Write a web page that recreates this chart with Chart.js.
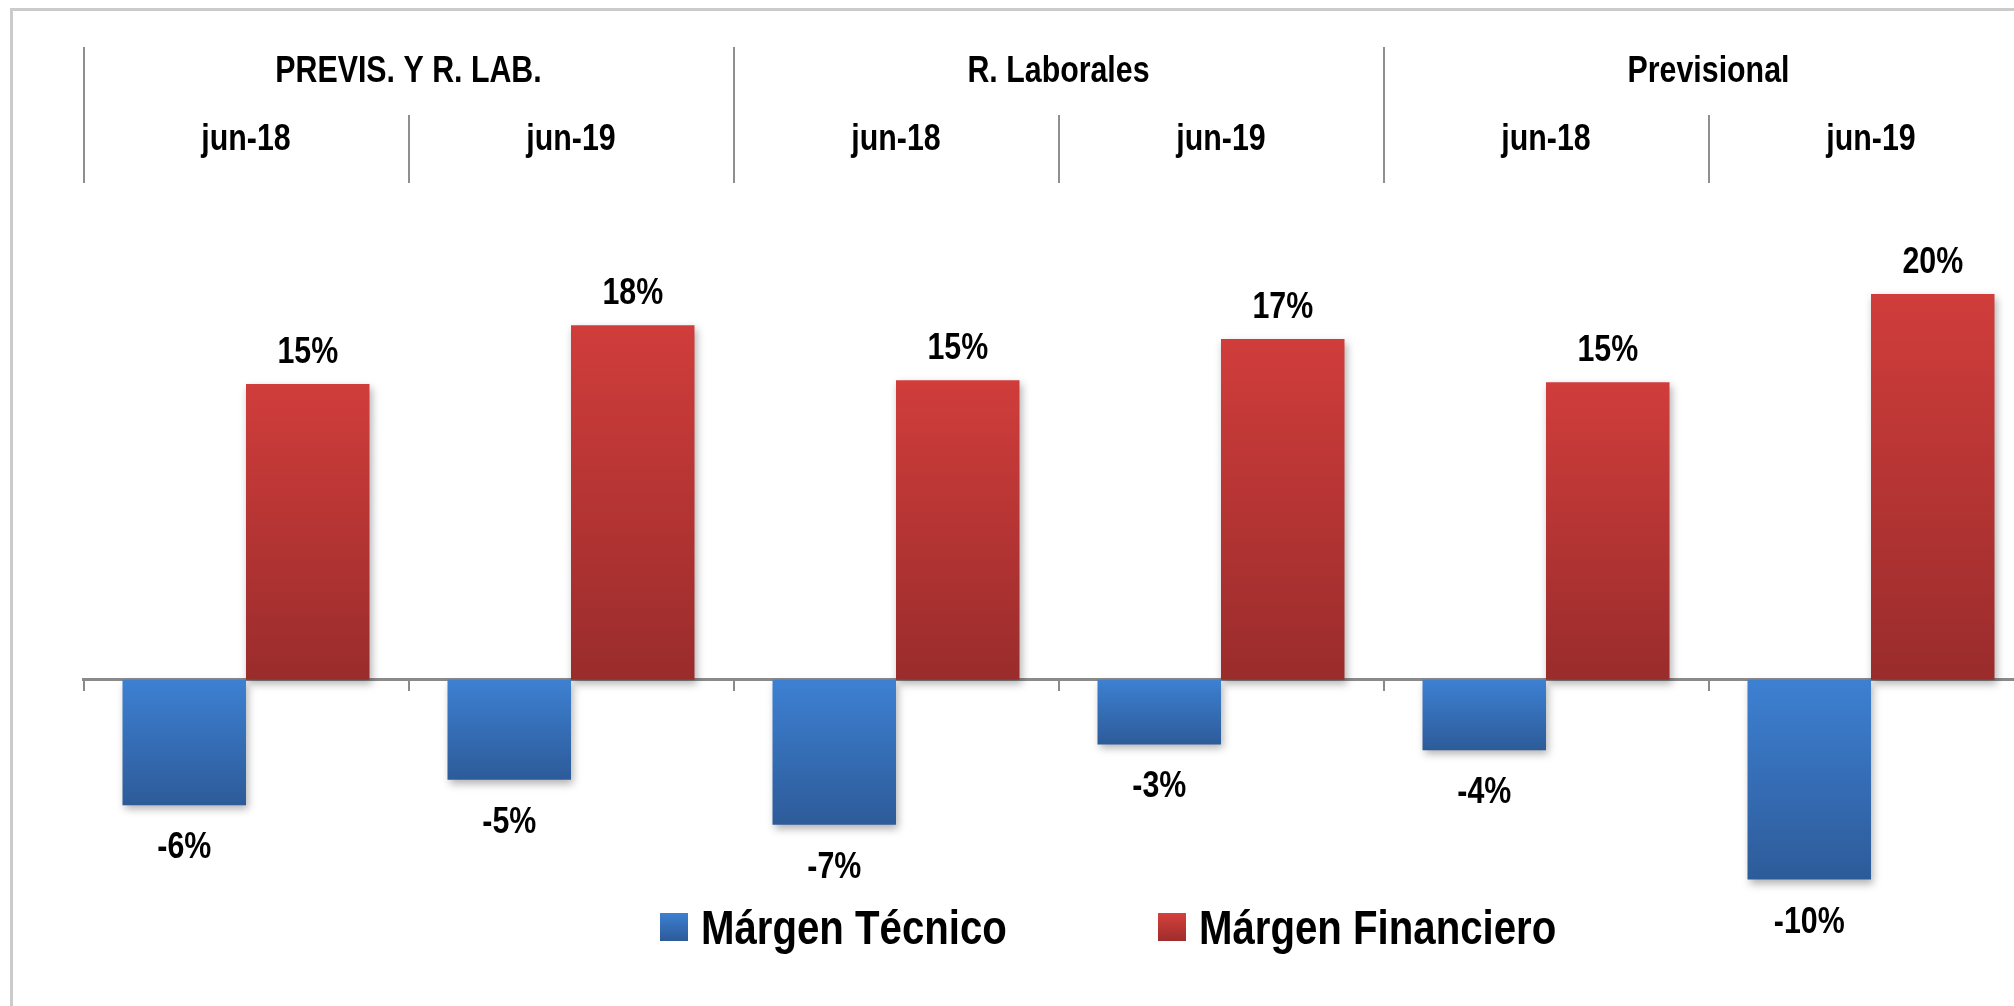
<!DOCTYPE html>
<html lang="es">
<head>
<meta charset="utf-8">
<title>Márgen Técnico y Márgen Financiero</title>
<script src="https://cdn.jsdelivr.net/npm/chart.js@4.4.1/dist/chart.umd.min.js"></script>
<style>
    html, body {
        margin: 0;
        padding: 0;
        width: 2014px;
        height: 1006px;
        overflow: hidden;
        background: #fff;
    }
    .frame {
        position: absolute;
        left: 10px;
        top: 8px;
        width: 2200px;
        height: 1200px;
        border: 3px solid #cbcbcb;
        box-sizing: border-box;
    }
    #chart {
        position: absolute;
        left: 0;
        top: 0;
    }
    .legend-item {
        position: absolute;
        top: 899px;
        display: flex;
        align-items: center;
        font-family: "Liberation Sans Narrow", "Arial Narrow", "Liberation Sans", sans-serif;
        font-weight: bold;
        font-size: 49px;
        color: #000;
        white-space: nowrap;
    }
    .legend-item .text {
        display: inline-block;
        transform: scaleX(0.82);
        transform-origin: left center;
    }
    .swatch {
        width: 28px;
        height: 28px;
        margin-right: 13px;
    }
    .swatch.blue { background: linear-gradient(#3d80d2, #2c5a97); }
    .swatch.red { background: linear-gradient(#d5403d, #9e2d2c); }
</style>
</head>
<body>
<div class="frame"></div>
<canvas id="chart" width="2059" height="1006"></canvas>
<div class="legend-item" style="left:660px"><span class="swatch blue"></span><span class="text">Márgen Técnico</span></div>
<div class="legend-item" style="left:1158px"><span class="swatch red"></span><span class="text">Márgen Financiero</span></div>

<script>
// Chart data
const groups = ['PREVIS. Y R. LAB.', 'R. Laborales', 'Previsional'];
const periods = ['jun-18', 'jun-19', 'jun-18', 'jun-19', 'jun-18', 'jun-19'];
const margenTecnico = [-6.4, -5.1, -7.4, -3.3, -3.6, -10.2];
const margenFinanciero = [15.1, 18.1, 15.3, 17.4, 15.2, 19.7];

const FONT = '"Liberation Sans Narrow", "Arial Narrow", "Liberation Sans", sans-serif';
const NARROW = 0.82; // horizontal squeeze to look like Arial Narrow

// Draw text squeezed horizontally around its anchor point
function narrowText(ctx, text, x, y) {
    ctx.save();
    ctx.translate(x, y);
    ctx.scale(NARROW, 1);
    ctx.fillText(text, 0, 0);
    ctx.restore();
}

// Vertical gradient from the top of each bar to its bottom
function barGradient(light, dark) {
    return (context) => {
        const chart = context.chart;
        if (!chart.chartArea || context.type !== 'data') {
            return dark;
        }
        const y = chart.scales.y;
        const p0 = y.getPixelForValue(0);
        const p1 = y.getPixelForValue(context.raw);
        const g = chart.ctx.createLinearGradient(0, Math.min(p0, p1), 0, Math.max(p0, p1));
        g.addColorStop(0, light);
        g.addColorStop(1, dark);
        return g;
    };
}

// Soft drop shadow under the bars
const barShadow = {
    id: 'barShadow',
    beforeDatasetDraw(chart) {
        const ctx = chart.ctx;
        ctx.save();
        ctx.shadowColor = 'rgba(0, 0, 0, 0.3)';
        ctx.shadowBlur = 8;
        ctx.shadowOffsetX = 2;
        ctx.shadowOffsetY = 4;
    },
    afterDatasetDraw(chart) {
        chart.ctx.restore();
    }
};

// Percent labels above / below each bar
const valueLabels = {
    id: 'valueLabels',
    afterDatasetsDraw(chart) {
        const ctx = chart.ctx;
        ctx.save();
        ctx.font = 'bold 37px ' + FONT;
        ctx.fillStyle = '#000';
        ctx.textAlign = 'center';
        ctx.textBaseline = 'alphabetic';
        chart.data.datasets.forEach((ds, i) => {
            chart.getDatasetMeta(i).data.forEach((bar, j) => {
                const v = ds.data[j];
                const y = v >= 0 ? bar.y - 21 : bar.y + 53;
                narrowText(ctx, Math.round(v) + '%', bar.x, y);
            });
        });
        ctx.restore();
    }
};

// Two-level header (groups and periods) with separators
const headerTable = {
    id: 'headerTable',
    afterDraw(chart) {
        const x = chart.scales.x;
        const ctx = chart.ctx;
        const step = x.getPixelForValue(1) - x.getPixelForValue(0);
        const start = x.getPixelForValue(0) - step / 2;

        ctx.save();
        ctx.strokeStyle = '#8f8f8f';
        ctx.lineWidth = 2;
        for (let i = 0; i <= periods.length; i++) {
            const px = Math.round(start + i * step);
            ctx.beginPath();
            ctx.moveTo(px, i % 2 === 0 ? 47 : 115);
            ctx.lineTo(px, 183);
            ctx.stroke();
        }

        ctx.fillStyle = '#000';
        ctx.textAlign = 'center';
        ctx.textBaseline = 'alphabetic';
        ctx.font = 'bold 37px ' + FONT;
        groups.forEach((g, k) => {
            const cx = (x.getPixelForValue(2 * k) + x.getPixelForValue(2 * k + 1)) / 2;
            narrowText(ctx, g, cx, 82);
        });
        periods.forEach((p, i) => {
            narrowText(ctx, p, x.getPixelForValue(i), 150);
        });
        ctx.restore();
    }
};

const ctx = document.getElementById('chart').getContext('2d');
const chart = new Chart(ctx, {
    type: 'bar',
    data: {
        labels: periods,
        datasets: [
            {
                label: 'Márgen Técnico',
                data: margenTecnico,
                backgroundColor: barGradient('#3d80d2', '#2d5b99'),
                borderWidth: 0
            },
            {
                label: 'Márgen Financiero',
                data: margenFinanciero,
                backgroundColor: barGradient('#d03d3b', '#9a2c2c'),
                borderWidth: 0
            }
        ]
    },
    options: {
        responsive: false,
        animation: false,
        devicePixelRatio: 1,
        categoryPercentage: 0.76,
        barPercentage: 1.0,
        layout: {
            padding: { left: 83.5, right: 25.5, top: 200, bottom: 3 }
        },
        scales: {
            x: {
                position: { y: 0 },
                offset: true,
                ticks: { display: false },
                grid: {
                    offset: true,
                    drawOnChartArea: false,
                    drawTicks: true,
                    tickLength: 10,
                    color: '#8a8a8a',
                    lineWidth: 2
                },
                border: { display: true, color: '#8a8a8a', width: 3 }
            },
            y: {
                display: false,
                min: -16.5,
                max: 24.5
            }
        },
        plugins: {
            legend: { display: false },
            tooltip: { enabled: false }
        }
    },
    plugins: [barShadow, valueLabels, headerTable]
});
</script>
</body>
</html>
